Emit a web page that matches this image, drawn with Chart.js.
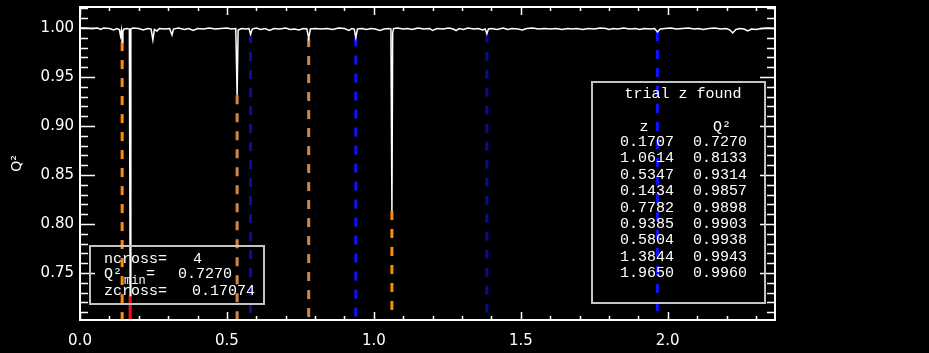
<!DOCTYPE html>
<html>
<head>
<meta charset="utf-8">
<script src="https://cdn.jsdelivr.net/npm/chart.js@4.4.0/dist/chart.umd.min.js"></script>
<style>
  html, body { margin: 0; padding: 0; background: #000; }
</style>
</head>
<body>
<canvas id="myChart" width="929" height="353"></canvas>
<script>
// Q^2 curve vs trial redshift z
var zGrid = [
  0.000, 0.020, 0.040, 0.060, 0.070, 0.080, 0.100, 0.115, 0.125, 0.134,
  0.138, 0.141, 0.1434, 0.146, 0.150, 0.160, 0.168, 0.1707, 0.173, 0.180,
  0.200, 0.215, 0.230, 0.242, 0.248, 0.253, 0.262, 0.270, 0.290, 0.305,
  0.313, 0.318, 0.335, 0.355, 0.370, 0.385, 0.400, 0.420, 0.440, 0.460,
  0.480, 0.500, 0.515, 0.530, 0.5347, 0.538, 0.550, 0.565, 0.575, 0.5804,
  0.586, 0.600, 0.615, 0.630, 0.645, 0.660, 0.680, 0.700, 0.715, 0.730,
  0.745, 0.760, 0.772, 0.7782, 0.784, 0.800, 0.820, 0.840, 0.860, 0.880,
  0.900, 0.915, 0.925, 0.933, 0.9385, 0.944, 0.960, 0.975, 0.990, 1.005,
  1.020, 1.035, 1.050, 1.058, 1.0614, 1.064, 1.067, 1.080, 1.100, 1.115,
  1.130, 1.150, 1.170, 1.190, 1.200, 1.215, 1.235, 1.255, 1.270, 1.280,
  1.290, 1.305, 1.320, 1.340, 1.355, 1.370, 1.379, 1.3844, 1.390, 1.400,
  1.420, 1.440, 1.455, 1.470, 1.490, 1.505, 1.520, 1.540, 1.560, 1.580,
  1.600, 1.620, 1.640, 1.660, 1.675, 1.690, 1.710, 1.730, 1.750, 1.770,
  1.790, 1.800, 1.815, 1.830, 1.850, 1.870, 1.890, 1.905, 1.920, 1.940,
  1.955, 1.965, 1.975, 1.990, 2.010, 2.030, 2.050, 2.070, 2.090, 2.105,
  2.120, 2.140, 2.160, 2.180, 2.200, 2.212, 2.221, 2.232, 2.245, 2.260,
  2.272, 2.285, 2.300, 2.320, 2.340, 2.365
];
var q2Curve = [
  1.0000, 1.0000, 0.9995, 1.0000, 0.9985, 1.0000, 0.9995, 0.9980, 0.9995, 0.9985,
  0.9920, 0.9975, 0.9857, 0.9970, 0.9990, 0.9995, 0.9990, 0.7270, 0.9990, 1.0000,
  0.9995, 0.9980, 0.9995, 0.9990, 0.9880, 0.9985, 0.9970, 0.9995, 0.9990, 0.9995,
  0.9930, 0.9990, 1.0000, 0.9985, 0.9995, 0.9975, 0.9995, 0.9990, 1.0000, 0.9990,
  0.9995, 1.0000, 0.9990, 0.9995, 0.9314, 0.9980, 0.9995, 0.9990, 0.9995, 0.9938,
  0.9990, 1.0000, 0.9985, 0.9995, 0.9975, 0.9995, 0.9990, 1.0000, 0.9985, 0.9990,
  0.9980, 0.9995, 0.9990, 0.9898, 0.9990, 0.9995, 0.9990, 0.9995, 0.9985, 1.0000,
  0.9995, 0.9975, 0.9995, 0.9990, 0.9903, 0.9990, 0.9995, 0.9985, 0.9995, 0.9990,
  0.9975, 0.9990, 0.9995, 0.9990, 0.8133, 0.9950, 0.9995, 1.0000, 0.9990, 0.9995,
  0.9985, 1.0000, 0.9990, 0.9995, 0.9975, 0.9995, 0.9990, 1.0000, 0.9990, 0.9975,
  0.9995, 0.9985, 1.0000, 0.9990, 0.9995, 0.9980, 0.9990, 0.9943, 0.9990, 0.9995,
  0.9985, 1.0000, 0.9985, 0.9995, 0.9990, 0.9980, 0.9995, 1.0000, 0.9990, 0.9995,
  0.9990, 0.9995, 0.9985, 0.9995, 0.9990, 0.9995, 0.9985, 0.9995, 0.9990, 1.0000,
  0.9995, 0.9985, 0.9995, 0.9990, 1.0000, 0.9990, 0.9995, 0.9985, 0.9995, 0.9990,
  0.9995, 0.9960, 0.9990, 0.9995, 1.0000, 0.9990, 0.9995, 1.0000, 0.9990, 0.9995,
  0.9985, 0.9995, 1.0000, 0.9990, 0.9995, 0.9980, 0.9950, 0.9985, 0.9995, 0.9990,
  0.9970, 0.9990, 0.9985, 0.9995, 1.0000, 0.9995
];

// trial z found (table, in order of Q^2)
var trialZ = [0.1707, 1.0614, 0.5347, 0.1434, 0.7782, 0.9385, 0.5804, 1.3844, 1.9650];
var trialQ2 = [0.7270, 0.8133, 0.9314, 0.9857, 0.9898, 0.9903, 0.9938, 0.9943, 0.9960];
var trialColors = ["#ff1010", "#ff8a10", "#d0884a", "#ff8a10", "#d0884a", "#1010ff", "#0a0aa8", "#0a0a98", "#1010ff"];

var nCross = 4;
var q2Min = 0.7270;
var zCross = 0.17074;

var xTickValues = [0.0, 0.5, 1.0, 1.5, 2.0];
var yTickValues = [0.75, 0.80, 0.85, 0.90, 0.95, 1.00];
var xMin = 0, xMax = 2.365;
var yMin = 0.702, yMax = 1.0215;

var datasets = [{
  data: zGrid.map(function (z, i) { return { x: z, y: q2Curve[i] }; }),
  borderColor: "#ffffff",
  borderWidth: 1.5,
  pointRadius: 0,
  order: 0
}];
trialZ.forEach(function (z, i) {
  datasets.push({
    data: [{ x: z, y: trialQ2[i] }, { x: z, y: yMin }],
    borderColor: trialColors[i],
    borderWidth: 3,
    borderDash: i === 0 ? [] : [9, 9],
    pointRadius: 0,
    order: 1
  });
});

// box, inward ticks and the two text panels
var framePlugin = {
  id: "frame",
  afterDatasetsDraw: function (chart) {
    var ctx = chart.ctx, a = chart.chartArea;
    var x = chart.scales.x, y = chart.scales.y;
    ctx.save();
    ctx.strokeStyle = "#ffffff";
    ctx.lineWidth = 2;
    ctx.strokeRect(a.left, a.top, a.right - a.left, a.bottom - a.top);
    ctx.lineWidth = 1.5;
    ctx.beginPath();
    for (var k = 0; k * 0.1 <= xMax; k++) {
      var px = Math.round(x.getPixelForValue(k * 0.1)) + 0.5;
      var len = k % 5 === 0 ? 8 : 4;
      ctx.moveTo(px, a.bottom); ctx.lineTo(px, a.bottom - len);
      ctx.moveTo(px, a.top); ctx.lineTo(px, a.top + len);
    }
    for (var j = Math.ceil(yMin * 100); j <= Math.floor(yMax * 100); j++) {
      var py = Math.round(y.getPixelForValue(j / 100)) + 0.5;
      var l2 = j % 5 === 0 ? 15 : 8;
      ctx.moveTo(a.left, py); ctx.lineTo(a.left + l2, py);
      ctx.moveTo(a.right, py); ctx.lineTo(a.right - l2, py);
    }
    ctx.stroke();

    ctx.strokeStyle = "#c4c4c4";
    ctx.lineWidth = 2;
    ctx.strokeRect(90, 246, 174, 58);
    ctx.strokeRect(592, 82, 173, 221);

    ctx.fillStyle = "#ffffff";
    ctx.textBaseline = "middle";
    var f = "15px 'Liberation Mono'";
    ctx.font = f;
    ctx.textAlign = "left";
    ctx.fillText("ncross=", 104, 259);
    ctx.fillText(String(nCross), 193, 259);
    ctx.fillText("Q²", 104, 274);
    ctx.font = "12px 'Liberation Mono'";
    ctx.fillText("min", 124, 281);
    ctx.font = f;
    ctx.fillText("=", 146, 274);
    ctx.fillText(q2Min.toFixed(4), 178, 274);
    ctx.fillText("zcross=", 104, 291);
    ctx.fillText(zCross.toFixed(5), 192, 291);

    ctx.textAlign = "center";
    ctx.fillText("trial z found", 683, 94);
    ctx.fillText("z", 644, 127);
    ctx.fillText("Q²", 722, 127);
    for (var r = 0; r < trialZ.length; r++) {
      var ry = 142 + r * 16.4;
      ctx.fillText(trialZ[r].toFixed(4), 647, ry);
      ctx.fillText(trialQ2[r].toFixed(4), 720, ry);
    }
    ctx.restore();
  }
};

var ctx = document.getElementById("myChart").getContext("2d");
var myChart = new Chart(ctx, {
  type: "line",
  data: { datasets: datasets },
  options: {
    responsive: false,
    animation: false,
    events: [],
    layout: { padding: { top: 7, right: 154, left: 0, bottom: 0 } },
    plugins: { legend: { display: false }, tooltip: { enabled: false } },
    scales: {
      x: {
        type: "linear",
        min: xMin,
        max: xMax,
        grid: { display: false, drawTicks: false },
        border: { display: false },
        afterBuildTicks: function (scale) {
          scale.ticks = xTickValues.map(function (v) { return { value: v }; });
        },
        afterFit: function (scale) {
          scale.height = 33;
          scale.paddingLeft = 0;
          scale.paddingRight = 0;
        },
        ticks: {
          color: "#ffffff",
          padding: 12,
          maxRotation: 0,
          font: { family: "DejaVu Sans", size: 15 },
          callback: function (v) { return Number(v).toFixed(1); }
        }
      },
      y: {
        min: yMin,
        max: yMax,
        grid: { display: false, drawTicks: false },
        border: { display: false },
        afterBuildTicks: function (scale) {
          scale.ticks = yTickValues.map(function (v) { return { value: v }; });
        },
        afterFit: function (scale) {
          scale.width = 80;
          scale.paddingTop = 0;
          scale.paddingBottom = 0;
        },
        title: {
          display: true,
          text: "Q²",
          color: "#ffffff",
          font: { family: "DejaVu Sans", size: 14 },
          padding: { top: 9, bottom: 0 }
        },
        ticks: {
          color: "#ffffff",
          padding: 6,
          font: { family: "DejaVu Sans", size: 15 },
          callback: function (v) { return Number(v).toFixed(2); }
        }
      }
    }
  },
  plugins: [framePlugin]
});
</script>
</body>
</html>
